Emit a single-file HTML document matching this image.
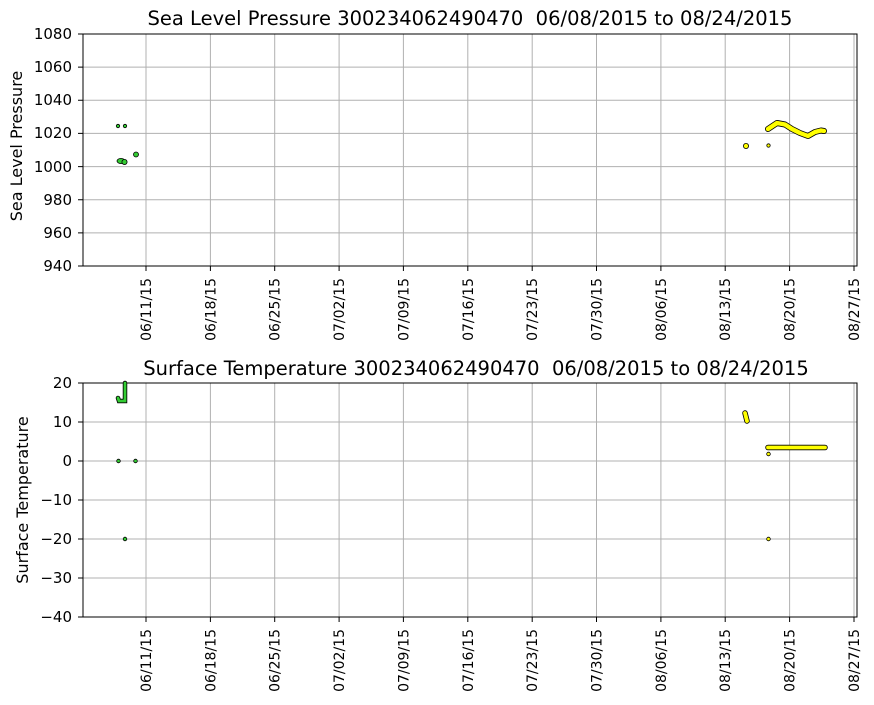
<!DOCTYPE html><html><head><style>body{margin:0;background:#fff}</style></head><body>
<svg width="874" height="700" xmlns="http://www.w3.org/2000/svg" font-family="DejaVu Sans, Liberation Sans, sans-serif">
<g id="grid" stroke="#b0b0b0" stroke-width="1">
<path d="M146 34V266M210.4 34V266M274.7 34V266M339.1 34V266M403.4 34V266M467.8 34V266M532.2 34V266M596.5 34V266M660.9 34V266M725.2 34V266M789.6 34V266M854 34V266"/>
<path d="M83 67.1H857M83 100.3H857M83 133.4H857M83 166.6H857M83 199.7H857M83 232.9H857"/>
<path d="M146 383V617M210.4 383V617M274.7 383V617M339.1 383V617M403.4 383V617M467.8 383V617M532.2 383V617M596.5 383V617M660.9 383V617M725.2 383V617M789.6 383V617M854 383V617"/>
<path d="M83 422H857M83 461H857M83 500H857M83 539H857M83 578H857"/>
</g>
<g fill="none" stroke="#000" stroke-width="1">
<rect x="83" y="34" width="774" height="232"/>
<rect x="83" y="383" width="774" height="234"/>
<path d="M146 266v5M210.4 266v5M274.7 266v5M339.1 266v5M403.4 266v5M467.8 266v5M532.2 266v5M596.5 266v5M660.9 266v5M725.2 266v5M789.6 266v5M854 266v5"/>
<path d="M146 617v5M210.4 617v5M274.7 617v5M339.1 617v5M403.4 617v5M467.8 617v5M532.2 617v5M596.5 617v5M660.9 617v5M725.2 617v5M789.6 617v5M854 617v5"/>
<path d="M83 34h-5M83 67.1h-5M83 100.3h-5M83 133.4h-5M83 166.6h-5M83 199.7h-5M83 232.9h-5M83 266h-5"/>
<path d="M83 383h-5M83 422h-5M83 461h-5M83 500h-5M83 539h-5M83 578h-5M83 617h-5"/>
</g>
<g stroke="#000" stroke-width="0.8" fill="#33cc33">
<circle cx="118" cy="126" r="1.7"/><circle cx="125" cy="126" r="1.7"/>
<circle cx="136" cy="154.5" r="2.5"/>
<ellipse cx="121" cy="161" rx="4" ry="2.6"/><circle cx="124.5" cy="162" r="2.6"/>
</g>
<g fill="#ffff00" stroke="#000" stroke-width="0.8">
<circle cx="746" cy="146" r="2.6"/><circle cx="768.5" cy="145.5" r="1.7"/>
</g>
<path d="M768 129 L777 123 L785 124.5 L792 129 L800 133 L808 136 L815 132 L821 130.5 L824 131" fill="none" stroke="#000" stroke-width="6" stroke-linecap="round" stroke-linejoin="round"/>
<path d="M768 129 L777 123 L785 124.5 L792 129 L800 133 L808 136 L815 132 L821 130.5 L824 131" fill="none" stroke="#ffff00" stroke-width="4.4" stroke-linecap="round" stroke-linejoin="round"/>
<path d="M125 383 V401 L119 401 L118 398" fill="none" stroke="#000" stroke-width="4.5" stroke-linecap="round"/>
<path d="M125 383 V401 L119 401 L118 398" fill="none" stroke="#33cc33" stroke-width="2.8" stroke-linecap="round"/>
<g stroke="#000" stroke-width="0.8" fill="#33cc33">
<circle cx="118.5" cy="461" r="1.8"/><circle cx="135.5" cy="461" r="1.8"/><circle cx="125" cy="539" r="1.8"/>
</g>
<path d="M745 413 L747 421" stroke="#000" stroke-width="5.5" stroke-linecap="round"/>
<path d="M745 413 L747 421" stroke="#ffff00" stroke-width="3.8" stroke-linecap="round"/>
<path d="M768 447.5 H825" stroke="#000" stroke-width="5.5" stroke-linecap="round"/>
<path d="M768 447.5 H825" stroke="#ffff00" stroke-width="3.8" stroke-linecap="round"/>
<g fill="#ffff00" stroke="#000" stroke-width="0.8"><circle cx="768.5" cy="454" r="1.8"/><circle cx="768.5" cy="539" r="1.8"/></g>
<g font-size="15" text-anchor="end">
<text x="72" y="39">1080</text><text x="72" y="72">1060</text><text x="72" y="105">1040</text><text x="72" y="138">1020</text><text x="72" y="172">1000</text><text x="72" y="205">980</text><text x="72" y="238">960</text><text x="72" y="271">940</text>
<text x="72" y="388">20</text><text x="72" y="427">10</text><text x="72" y="466">0</text><text x="72" y="505">−10</text><text x="72" y="544">−20</text><text x="72" y="583">−30</text><text x="72" y="622">−40</text>
</g>
<g font-size="14" text-anchor="end">
<g id="xl">
<text transform="translate(151,278) rotate(-90)">06/11/15</text>
<text transform="translate(215.4,278) rotate(-90)">06/18/15</text>
<text transform="translate(279.7,278) rotate(-90)">06/25/15</text>
<text transform="translate(344.1,278) rotate(-90)">07/02/15</text>
<text transform="translate(408.4,278) rotate(-90)">07/09/15</text>
<text transform="translate(472.8,278) rotate(-90)">07/16/15</text>
<text transform="translate(537.2,278) rotate(-90)">07/23/15</text>
<text transform="translate(601.5,278) rotate(-90)">07/30/15</text>
<text transform="translate(665.9,278) rotate(-90)">08/06/15</text>
<text transform="translate(730.2,278) rotate(-90)">08/13/15</text>
<text transform="translate(794.6,278) rotate(-90)">08/20/15</text>
<text transform="translate(859,278) rotate(-90)">08/27/15</text>
</g>
<use href="#xl" y="351"/>
</g>
<g font-size="16" text-anchor="middle">
<text transform="translate(22,146) rotate(-90)">Sea Level Pressure</text>
<text transform="translate(28,500) rotate(-90)">Surface Temperature</text>
</g>
<g font-size="19.5" text-anchor="middle">
<text x="470" y="25">Sea Level Pressure 300234062490470 &#160;06/08/2015 to 08/24/2015</text>
<text x="476" y="375">Surface Temperature 300234062490470 &#160;06/08/2015 to 08/24/2015</text>
</g>
</svg></body></html>
